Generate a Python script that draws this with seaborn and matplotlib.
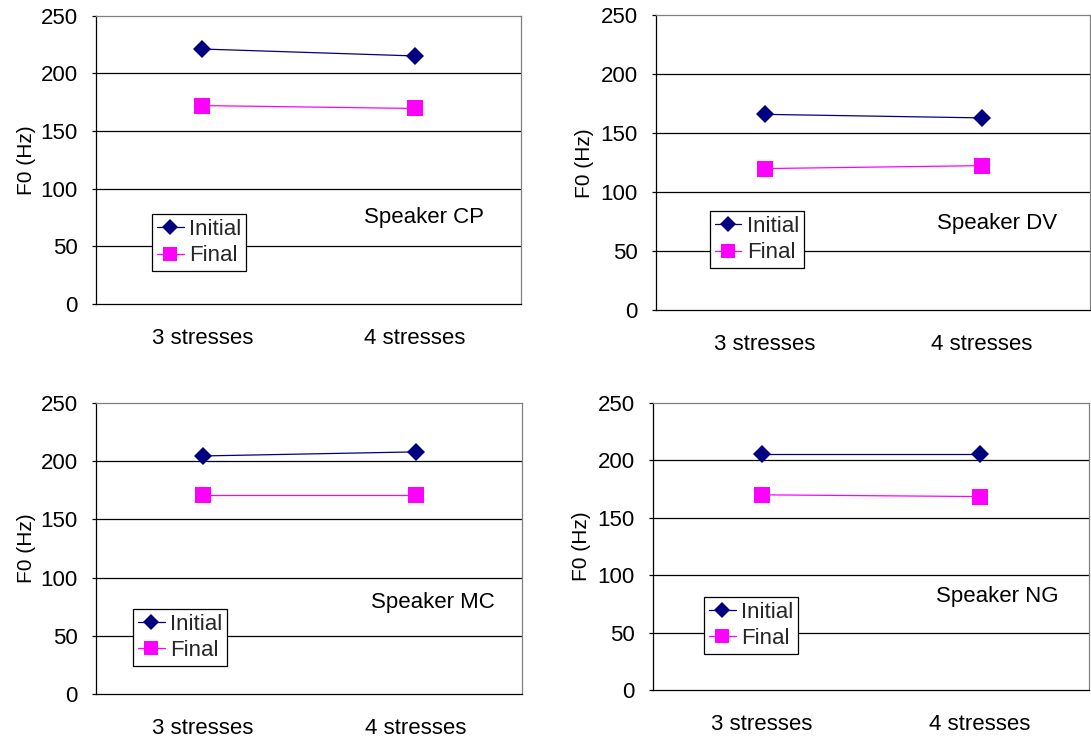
import matplotlib
matplotlib.use("Agg")
import matplotlib.pyplot as plt
from matplotlib.lines import Line2D
import seaborn as sns
import pandas as pd

# F0 means per speaker, by number of stresses and position in the utterance
conditions = ["3 stresses", "4 stresses"]
speakers = ["CP", "DV", "MC", "NG"]
initial_f0 = {
    "CP": [221, 215],
    "DV": [166, 163],
    "MC": [204.5, 208],
    "NG": [205.5, 205.5],
}
final_f0 = {
    "CP": [172, 169.5],
    "DV": [120, 122.5],
    "MC": [171, 171],
    "NG": [170, 168.5],
}
y_ticks = [0, 50, 100, 150, 200, 250]

sns.set_theme(style="white")
plt.rcParams["font.family"] = ["Liberation Sans", "DejaVu Sans"]

NAVY = "#000080"
MAGENTA = "#FF00FF"
FS = 16

fig = plt.figure(figsize=(10.91, 7.40), dpi=100)

# axes rectangles [left, bottom, width, height] in figure fraction
rects = {
    "CP": [0.0880, 0.5890, 0.3895, 0.3900],
    "DV": [0.6013, 0.5810, 0.3978, 0.3983],
    "MC": [0.0880, 0.0622, 0.3905, 0.3932],
    "NG": [0.5985, 0.0676, 0.3996, 0.3878],
}
legend_anchor = {
    "CP": (0.132, 0.114),
    "DV": (0.124, 0.142),
    "MC": (0.087, 0.096),
    "NG": (0.117, 0.125),
}
speaker_pos = {
    "CP": (0.631, 0.301),
    "DV": (0.647, 0.295),
    "MC": (0.646, 0.316),
    "NG": (0.649, 0.324),
}

for spk in speakers:
    ax = fig.add_axes(rects[spk])
    df = pd.DataFrame({
        "condition": conditions * 2,
        "f0": initial_f0[spk] + final_f0[spk],
        "position": ["Initial"] * 2 + ["Final"] * 2,
    })
    ax.set_axisbelow(True)
    for v in y_ticks[1:-1]:
        ax.axhline(v, color="black", lw=0.9, zorder=0)
    sns.lineplot(
        data=df, x="condition", y="f0", hue="position", style="position",
        hue_order=["Initial", "Final"], style_order=["Initial", "Final"],
        palette={"Initial": NAVY, "Final": MAGENTA},
        markers={"Initial": "D", "Final": "s"}, dashes=False,
        linewidth=0.9, markeredgewidth=0, legend=False, ax=ax,
    )
    for line in ax.lines:
        if line.get_marker() == "D":
            line.set_markersize(9.5)
        elif line.get_marker() == "s":
            line.set_markersize(11.5)

    ax.set_xlim(-0.5, 1.5)
    ax.set_ylim(0, 250)
    ax.set_yticks(y_ticks)
    ax.set_yticklabels([str(t) for t in y_ticks], fontsize=FS)
    ax.set_xticks(range(len(conditions)))
    ax.set_xticklabels(conditions, fontsize=FS)
    ax.tick_params(axis="y", length=3, width=0.9, pad=10, colors="black",
                   left=True, direction="out")
    ax.tick_params(axis="x", length=0, pad=17, colors="black")
    ax.set_xlabel("")
    ax.set_ylabel("F0 (Hz)", fontsize=15, color="black")
    ax.yaxis.set_label_coords(-0.142, 0.5)

    for side in ("left", "bottom"):
        ax.spines[side].set_color("black")
        ax.spines[side].set_linewidth(0.9)
    for side in ("top", "right"):
        ax.spines[side].set_color("#808080")
        ax.spines[side].set_linewidth(0.9)
        ax.spines[side].set_visible(True)

    handles = [
        Line2D([], [], color=NAVY, lw=0.9, marker="D", markersize=8,
               markeredgewidth=0),
        Line2D([], [], color=MAGENTA, lw=0.9, marker="s", markersize=10,
               markeredgewidth=0),
    ]
    leg = ax.legend(
        handles, ["Initial", "Final"], loc="lower left",
        bbox_to_anchor=legend_anchor[spk], borderaxespad=0,
        fontsize=FS, frameon=True, fancybox=False, shadow=False,
        handlelength=1.2, handletextpad=0.25, borderpad=0.22,
        labelspacing=0.25,
    )
    leg.get_frame().set_edgecolor("black")
    leg.get_frame().set_linewidth(0.9)
    leg.get_frame().set_facecolor("white")
    leg.get_frame().set_alpha(1)

    ax.text(*speaker_pos[spk], f"Speaker {spk}", transform=ax.transAxes,
            ha="left", va="center", fontsize=FS, color="black")

fig.savefig("out.png", dpi=100, facecolor="white")
